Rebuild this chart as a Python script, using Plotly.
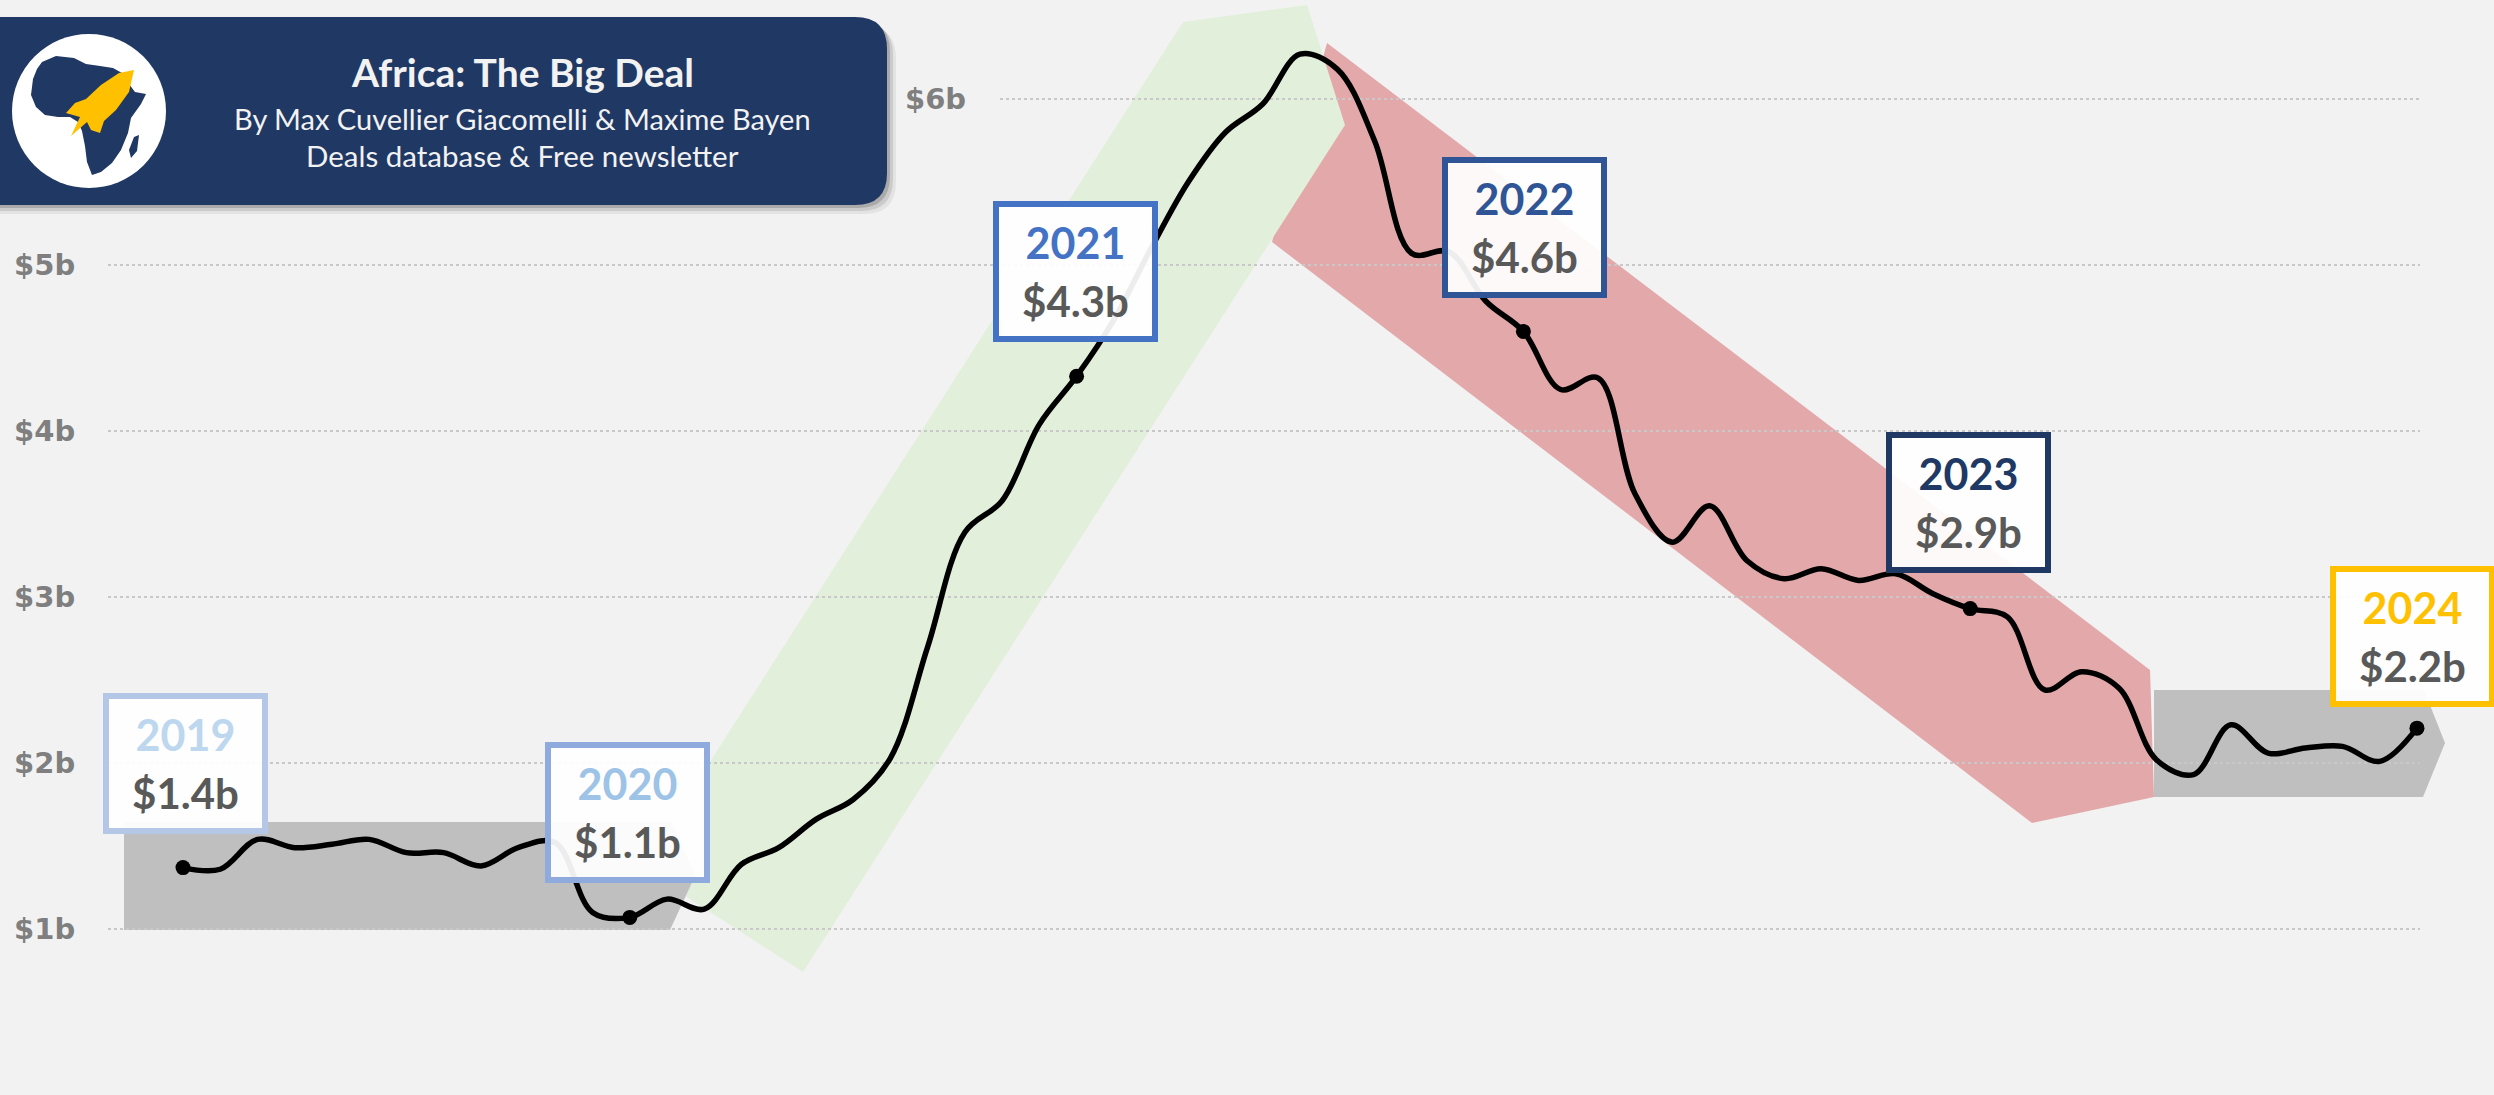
import plotly.graph_objects as go

# ── DADOS ────────────────────────────────────────────────────────────────────
# Financiamento acumulado em 12 meses (US$ bi), mensal de dez/2019 a dez/2024
valores = [1.37, 1.36, 1.54, 1.49, 1.51, 1.54, 1.46, 1.46, 1.38, 1.49, 1.52, 1.10,
           1.07, 1.18, 1.12, 1.39, 1.49, 1.66, 1.78, 2.03, 2.70, 3.39, 3.58, 4.04,
           4.33, 4.67, 5.10, 5.50, 5.80, 5.97, 6.27, 6.18, 5.75, 5.07, 5.08, 4.78,
           4.60, 4.25, 4.32, 3.62, 3.33, 3.55, 3.22, 3.11, 3.17, 3.10, 3.14, 3.02,
           2.93, 2.88, 2.44, 2.55, 2.45, 2.02, 1.93, 2.23, 2.06, 2.09, 2.10, 2.01,
           2.21]
anos = ["2019", "2020", "2021", "2022", "2023", "2024"]
totais_ano = [1.4, 1.1, 4.3, 4.6, 2.9, 2.2]
ticks_y = [0, 1, 2, 3, 4, 5]
ticks_txt = ["", "$1b", "$2b", "$3b", "$4b", "$5b"]

# ── GEOMETRIA DA PÁGINA ──────────────────────────────────────────────────────
W, H = 2494, 1095
L, R, T, B = 108, 74, 0, 0
PW, PH = W - L - R, H - T - B
PX_MES = 37.233          # pixels por mês
PX_BI = 166.0            # pixels por US$ 1 bi
X0 = -(183 - L) / PX_MES


def fx(p):
    return (p - L) / PW


def fy(p):
    return (H - B - p) / PH


def caminho(pontos, fechar=True):
    s = "M " + " L ".join(f"{fx(x):.5f},{fy(y):.5f}" for x, y in pontos)
    return s + (" Z" if fechar else "")


BG = "#F2F2F2"
NAVY = "#203864"
FONTE = "Lato"
FONTE_EIXO = dict(family="DejaVu Sans", size=29, color="#7F7F7F", weight="bold")

cores_borda = ["#B4C7E7", "#8FAADC", "#4472C4", "#2F5597", "#203864", "#FFC000"]
cores_ano = ["#BDD7EE", "#9DC3E6", "#4472C4", "#2F5597", "#203864", "#FFC000"]
desloc = [(2, 104), (-2, 105), (-1, 105), (1, 104), (-2, 106), (-4, 92)]

meses = list(range(len(valores)))
idx_ano = [12 * i for i in range(len(anos))]

fig = go.Figure()
fig.add_trace(go.Scatter(
    x=meses, y=valores, mode="lines",
    line=dict(color="black", width=5.5, shape="spline", smoothing=1.0),
    hoverinfo="skip", showlegend=False,
))
fig.add_trace(go.Scatter(
    x=idx_ano, y=[valores[i] for i in idx_ano], mode="markers",
    marker=dict(color="black", size=15), cliponaxis=False,
    hoverinfo="skip", showlegend=False,
))

# ── FAIXAS DE TENDÊNCIA ──────────────────────────────────────────────────────
faixas = [
    ("#E3A8A9", [(1327, 43), (2150, 670), (2154, 797), (2032, 823), (1272, 242)]),
    ("#E2EFDA", [(642, 868), (1183, 22), (1307, 5), (1345, 125), (803, 972)]),
    ("#BFBFBF", [(124, 822), (672, 822), (695, 876), (670, 930), (124, 930)]),
    ("#BFBFBF", [(2154, 690), (2424, 690), (2445, 743), (2423, 797), (2154, 797)]),
]
shapes = []
for cor, pts in faixas:
    shapes.append(dict(type="path", xref="paper", yref="paper", path=caminho(pts),
                       fillcolor=cor, line=dict(width=0), layer="below"))

# linha de $6b (começa depois do cabeçalho)
shapes.append(dict(type="line", xref="paper", yref="y", x0=fx(1000), x1=1, y0=6, y1=6,
                   line=dict(color="#C8C8C8", width=2, dash="dot"), layer="below"))

# ── CABEÇALHO ────────────────────────────────────────────────────────────────
def ret_arredondado(x0, y0, x1, y1, r):
    return (f"M {fx(x0)},{fy(y0)} L {fx(x1 - r)},{fy(y0)} "
            f"Q {fx(x1)},{fy(y0)} {fx(x1)},{fy(y0 + r)} L {fx(x1)},{fy(y1 - r)} "
            f"Q {fx(x1)},{fy(y1)} {fx(x1 - r)},{fy(y1)} L {fx(x0)},{fy(y1)} Z")


for d, a in [(9, 0.06), (6, 0.10), (3, 0.16)]:
    shapes.append(dict(type="path", xref="paper", yref="paper",
                       path=ret_arredondado(-20, 17 + d, 887 + d, 205 + d, 32),
                       fillcolor=f"rgba(0,0,0,{a})", line=dict(width=0), layer="above"))
shapes.append(dict(type="path", xref="paper", yref="paper",
                   path=ret_arredondado(-20, 17, 887, 205, 32),
                   fillcolor=NAVY, line=dict(width=0), layer="above"))
shapes.append(dict(type="circle", xref="paper", yref="paper",
                   x0=fx(12), x1=fx(166), y0=fy(188), y1=fy(34),
                   fillcolor="white", line=dict(width=0), layer="above"))

africa = [(42, 62), (56, 56), (74, 58), (86, 64), (100, 66), (113, 68), (122, 73),
          (129, 84), (135, 92), (146, 94), (141, 104), (131, 118), (128, 133),
          (121, 150), (112, 163), (101, 172), (92, 175), (87, 162), (85, 146),
          (82, 131), (78, 122), (70, 117), (58, 117), (45, 115), (36, 107),
          (31, 95), (33, 79), (37, 69)]
madagascar = [(134, 137), (139, 135), (137, 151), (131, 158), (129, 150)]
foguete = [(134, 70), (129, 92), (116, 110), (104, 121), (100, 133), (91, 130),
           (87, 122), (71, 136), (80, 117), (66, 113), (75, 103), (86, 99),
           (101, 85), (119, 73)]
for pts, cor in [(africa, NAVY), (madagascar, NAVY), (foguete, "#FFC000")]:
    shapes.append(dict(type="path", xref="paper", yref="paper", path=caminho(pts),
                       fillcolor=cor, line=dict(width=0), layer="above"))

annotations = [
    dict(text="<b>Africa: The Big Deal</b>", x=fx(522), y=fy(72),
         font=dict(family=FONTE, size=39, color="#F2F2F2")),
    dict(text="By Max Cuvellier Giacomelli & Maxime Bayen", x=fx(522), y=fy(118),
         font=dict(family=FONTE, size=29, color="#F2F2F2")),
    dict(text="Deals database & Free newsletter", x=fx(522), y=fy(155),
         font=dict(family=FONTE, size=29.5, color="#F2F2F2")),
]
for a in annotations:
    a.update(xref="paper", yref="paper", showarrow=False, xanchor="center", yanchor="middle")

annotations.append(dict(
    text="$6b", xref="paper", yref="y", x=fx(935), y=6, showarrow=False,
    font=FONTE_EIXO,
))

# ── CAIXAS ANUAIS ────────────────────────────────────────────────────────────
for ano, total, i, cb, ca, (dx, dy) in zip(anos, totais_ano, idx_ano,
                                          cores_borda, cores_ano, desloc):
    annotations.append(dict(
        x=i, y=valores[i], xref="x", yref="y", xshift=dx, yshift=dy,
        text=(f"<span style='color:{ca};font-size:43px'><b>{ano}</b></span><br>"
              f"<span style='color:#595959;font-size:42px'><b>${total:.1f}b</b></span>"),
        showarrow=False, width=153, height=129, align="center", valign="middle",
        bgcolor="rgba(255,255,255,0.93)", bordercolor=cb, borderwidth=6, borderpad=0,
        font=dict(family=FONTE, size=44, color="#595959"),
    ))

fig.update_layout(
    width=W, height=H,
    margin=dict(l=L, r=R, t=T, b=B, pad=0),
    plot_bgcolor=BG, paper_bgcolor=BG,
    shapes=shapes, annotations=annotations,
    xaxis=dict(range=[X0, X0 + PW / PX_MES], visible=False),
    yaxis=dict(
        range=[0, PH / PX_BI], tickvals=ticks_y, ticktext=ticks_txt,
        showgrid=True, gridcolor="#C8C8C8", gridwidth=2, griddash="dot",
        zeroline=False, showline=False,
        ticks="outside", ticklen=26, tickcolor="rgba(0,0,0,0)",
        tickfont=FONTE_EIXO,
    ),
    showlegend=False,
)

# tira a margem padrão do <body> para o gráfico ocupar a janela inteira
fig.write_html("out.html", config={"displayModeBar": False}, post_script=(
    "document.body.style.margin='0';document.body.style.background='#F2F2F2';"
))
